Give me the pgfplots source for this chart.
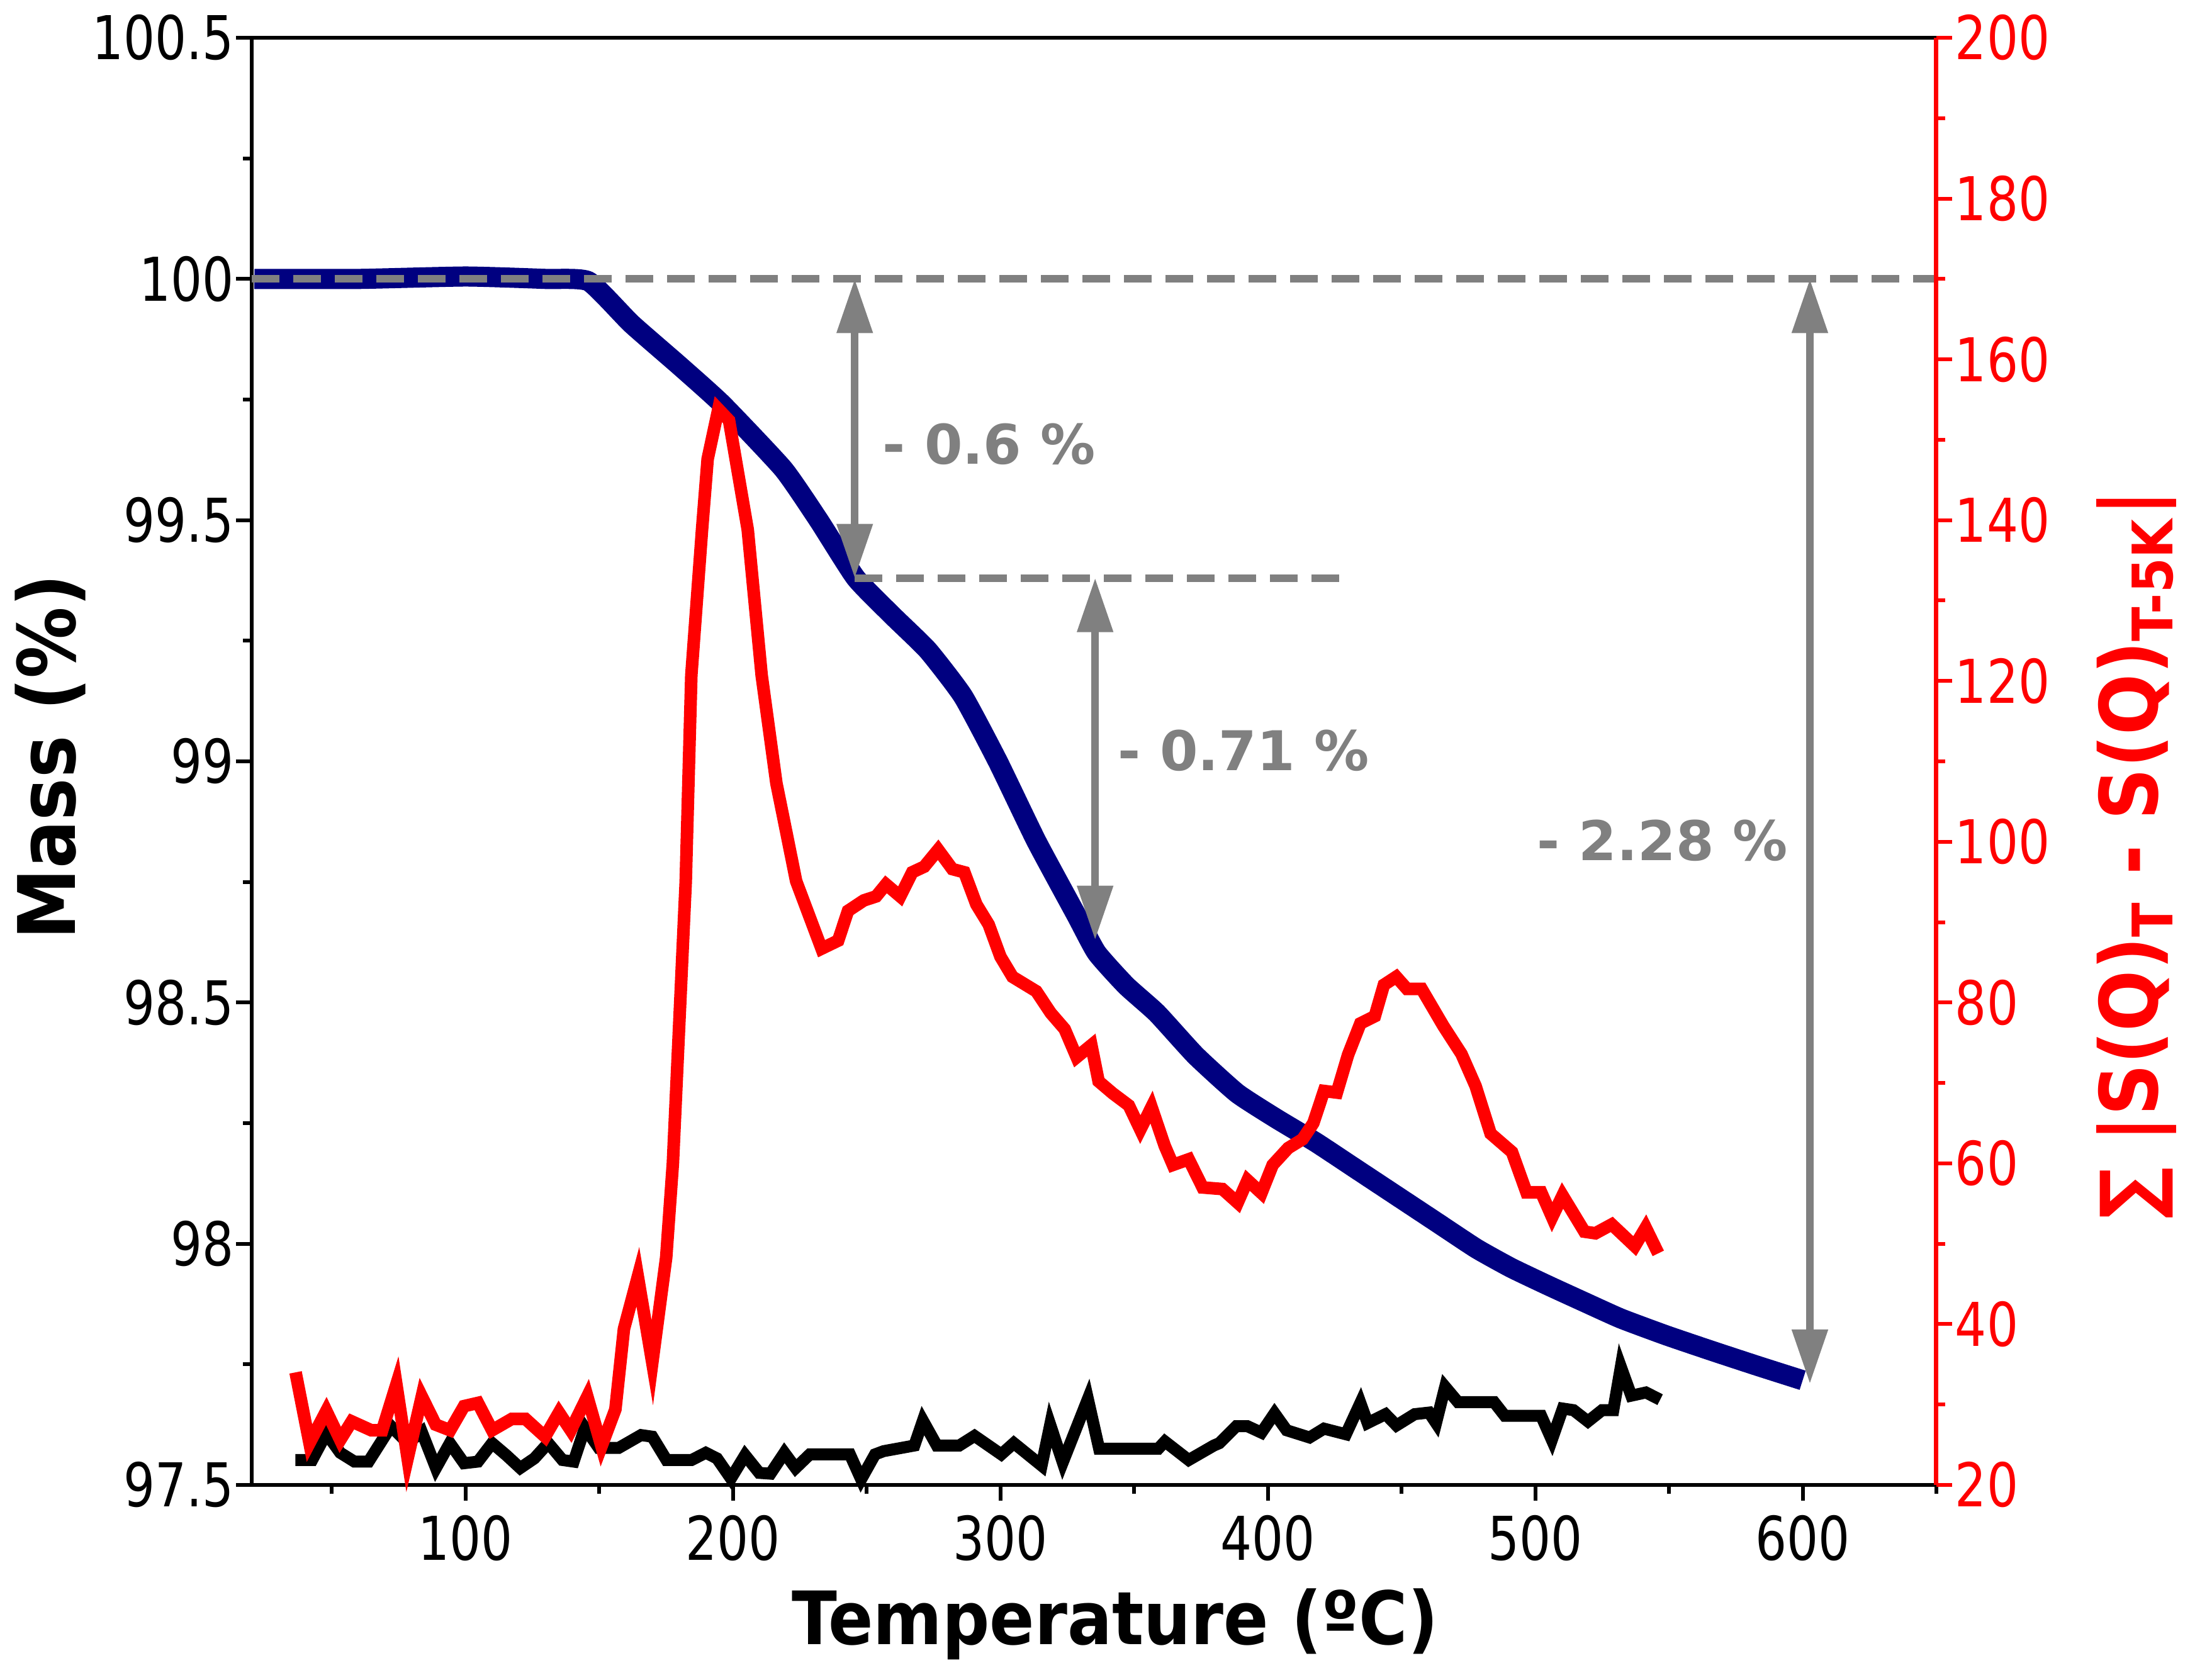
\documentclass[border=0pt]{standalone}
\usepackage{fontspec}
\setmainfont{DejaVu Sans}
\newfontfamily\tickfamily{DejaVu Sans}[FakeStretch=0.82]
\newfontfamily\labfamily{DejaVu Sans}[FakeStretch=0.9]
\usepackage{pgfplots}
\pgfplotsset{compat=1.18}
\usetikzlibrary{arrows.meta}
\definecolor{navyb}{RGB}{0,0,128}
\definecolor{redc}{RGB}{255,0,0}
\definecolor{grayc}{RGB}{128,128,128}
\newcommand\tickfnt{\tickfamily\fontsize{9.6}{11}\selectfont}
\newcommand\labfnt{\labfamily\bfseries\fontsize{11.7}{14}\selectfont}
\newcommand\mlabfnt{\labfamily\bfseries\fontsize{12.6}{14}\selectfont}
\newcommand\rlabfnt{\labfamily\bfseries\fontsize{12.7}{14}\selectfont}
\newcommand\annfnt{\bfseries\fontsize{8.7}{10}\selectfont}

\pgfplotstableread{
T M
21 100.0
60 100.0
100 100.005
130 100.0
146 99.995
162 99.907
180 99.82
196 99.74
218.8 99.606
232 99.50
245.9 99.38
260 99.30
272.9 99.23
286 99.135
299 99.0
313.4 98.835
328.5 98.68
336 98.603
347 98.535
358.5 98.478
373 98.39
388.5 98.312
403 98.26
418 98.21
433 98.155
448 98.10
463 98.045
478 97.99
491 97.95
505 97.913
518 97.88
532 97.845
549 97.81
566 97.778
583 97.747
600 97.717
}\massdata

\pgfplotstableread{
T S
36.4 34.0
41.6 25.2
47.9 29.2
53.1 25.6
57.4 27.9
64.7 26.8
68.8 26.8
74.1 32.5
78.3 23.3
83.6 31.0
88.8 27.5
94.2 26.8
99.4 29.8
104.6 30.2
109.9 26.8
117.2 28.2
122.4 28.2
129.7 26.0
134.9 29.0
139.3 26.8
145.5 31.0
150.8 24.8
156.0 29.4
159.2 39.4
164.4 45.9
169.8 35.2
175.0 48.3
177.5 60.0
182.3 95.0
184.4 120.7
188.4 138.8
190.5 147.6
194.5 153.8
198.5 152.4
205.5 138.8
210.7 120.7
216.2 107.3
219.0 102.7
223.6 95.1
233.1 86.7
239.3 87.7
243.0 91.4
248.9 92.7
253.5 93.2
257.2 94.7
262.5 93.2
267.0 96.2
271.5 96.9
276.7 99.0
282.0 96.6
286.5 96.2
291.0 92.2
295.6 89.7
300.0 85.7
304.5 83.2
313.4 81.4
318.8 78.7
324.0 76.7
328.5 73.2
334.0 74.7
336.7 70.2
342.0 68.7
348.0 67.2
352.3 64.2
356.5 67.0
361.4 62.2
364.5 59.8
370.4 60.5
375.6 57.0
383.0 56.8
388.7 55.1
392.4 57.9
397.6 56.3
401.8 59.8
407.6 61.9
413.0 63.0
417.0 65.0
421.0 69.0
425.8 68.8
430.0 73.5
434.6 77.4
440.0 78.3
443.4 82.2
448.0 83.2
452.0 81.7
457.5 81.7
465.6 77.1
472.4 73.6
477.7 69.6
483.3 63.7
491.3 61.4
496.7 56.4
502.2 56.4
506.3 53.3
510.2 56.0
518.4 51.5
522.5 51.3
528.6 52.4
537.2 49.7
541.3 52.0
546.0 48.8
}\reddata

\pgfplotstableread{
T S
36.3 23.1
42.6 23.1
47.9 26.4
53.1 24.0
58.4 22.9
63.7 22.9
72.1 27.3
78.4 25.2
83.6 26.6
88.9 22.1
94.1 25.2
99.4 22.7
104.6 22.9
109.9 25.2
115.2 23.7
120.4 22.1
125.7 23.3
130.9 25.2
136.2 23.1
140.4 22.9
144.6 27.1
149.8 24.6
157.2 24.6
165.6 26.2
169.8 26.0
175.1 23.1
184.5 23.1
189.8 24.0
194.0 23.3
199.2 20.8
204.5 23.7
209.8 21.5
214.0 21.4
219.2 24.0
223.4 22.1
228.7 23.8
235.0 23.8
243.7 23.8
247.9 20.7
253.1 23.8
256.3 24.2
267.8 24.9
271.0 28.0
276.2 24.9
284.6 24.9
290.3 26.1
300.3 23.8
305.0 25.2
315.4 22.4
318.6 27.5
323.3 22.8
332.7 30.7
336.9 24.5
359.0 24.5
361.5 25.4
370.4 23.1
379.8 24.9
381.9 25.2
388.2 27.3
392.4 27.3
397.6 26.5
402.5 28.9
407.0 26.8
415.6 25.9
421.0 27.0
429.2 26.3
434.6 30.2
437.3 27.7
444.0 28.8
448.1 27.4
454.9 28.8
460.3 29.0
462.9 27.7
466.3 32.2
471.1 30.3
484.6 30.3
488.6 28.6
502.2 28.6
506.2 25.6
510.3 29.5
514.3 29.3
519.7 27.9
525.0 29.3
529.2 29.3
532.0 34.7
535.9 31.1
541.4 31.5
546.7 30.6
}\blackdata

\begin{document}
\begin{tikzpicture}
\path[use as bounding box] (-40pt,-31pt) rectangle (308pt,236pt);
\begin{axis}[
  scale only axis, width=267.7pt, height=230pt,
  at={(0,0)}, anchor=south west,
  xmin=20, xmax=650, ymin=97.5, ymax=100.5,
  xtick={100,200,...,600}, minor xtick={50,150,...,650},
  ytick={97.5,98,98.5,99,99.5,100,100.5},
  minor ytick={97.75,98.25,98.75,99.25,99.75,100.25},
  tick align=outside, xtick pos=left, ytick pos=left,
  major tick length=2.5pt, minor tick length=1.4pt,
  tick style={line width=0.6pt, black},
  axis line style={line width=0.6pt},
  tick label style={font=\tickfnt},
  /pgf/number format/assume math mode=true,
  xticklabel style={anchor=north, inner sep=0pt, yshift=-2.1pt},
  yticklabel style={anchor=east, inner sep=0pt, xshift=-0.1pt},
  clip=false,
]
\addplot[navyb, line width=3.2pt, line join=round, smooth, tension=0.3] table[x=T, y=M] {\massdata};
\draw[grayc, line width=1.2pt, dash pattern=on 4.4pt off 2.2pt] (axis cs:20,100) -- (axis cs:650,100);
\draw[grayc, line width=1.2pt, dash pattern=on 4.4pt off 2.2pt] (axis cs:245.5,99.38) -- (axis cs:428.5,99.38);
\draw[grayc, line width=1.15pt, {Triangle[width=5.5pt,length=8.6pt]}-{Triangle[width=5.5pt,length=8.6pt]}] (axis cs:245.5,100) -- (axis cs:245.5,99.38);
\draw[grayc, line width=1.15pt, {Triangle[width=5.5pt,length=8.6pt]}-{Triangle[width=5.5pt,length=8.6pt]}] (axis cs:335.4,99.38) -- (axis cs:335.4,98.63);
\draw[grayc, line width=1.15pt, {Triangle[width=5.5pt,length=8.6pt]}-{Triangle[width=5.5pt,length=8.6pt]}] (axis cs:602.7,100) -- (axis cs:602.7,97.71);
\node[font=\annfnt, text=grayc] at (axis cs:295.8,99.657) {- 0.6 \%};
\node[font=\annfnt, text=grayc] at (axis cs:390.9,99.022) {- 0.71 \%};
\node[font=\annfnt, text=grayc] at (axis cs:547.6,98.836) {- 2.28 \%};
\node[font=\labfnt, anchor=base] at (rel axis cs:0.5125,-0.11043) {Temperature (ºC)};
\node[font=\mlabfnt, rotate=90, anchor=center] at (rel axis cs:-0.1197,0.503) {Mass (\%)};
\end{axis}
\begin{axis}[
  scale only axis, width=267.7pt, height=230pt,
  at={(0,0)}, anchor=south west,
  xmin=20, xmax=650, ymin=20, ymax=200,
  axis x line=none, axis y line*=right,
  ytick={20,40,...,200}, minor ytick={30,50,...,190},
  tick align=outside,
  major tick length=2.5pt, minor tick length=1.4pt,
  tick style={line width=0.6pt, redc},
  axis line style={line width=0.7pt, redc},
  yticklabel style={font=\tickfnt, text=redc, anchor=west, inner sep=0pt, xshift=0.3pt},
  /pgf/number format/assume math mode=true,
  clip=false,
]
\addplot[black, line width=1.9pt] table[x=T, y=S] {\blackdata};
\addplot[redc, line width=2pt] table[x=T, y=S] {\reddata};
\node[font=\rlabfnt, text=redc, rotate=90, anchor=center] at (rel axis cs:1.1188,0.4357) {∑ |S(Q)\textsubscript{T} - S(Q)\textsubscript{T-5K}|};
\end{axis}
\end{tikzpicture}
\end{document}
